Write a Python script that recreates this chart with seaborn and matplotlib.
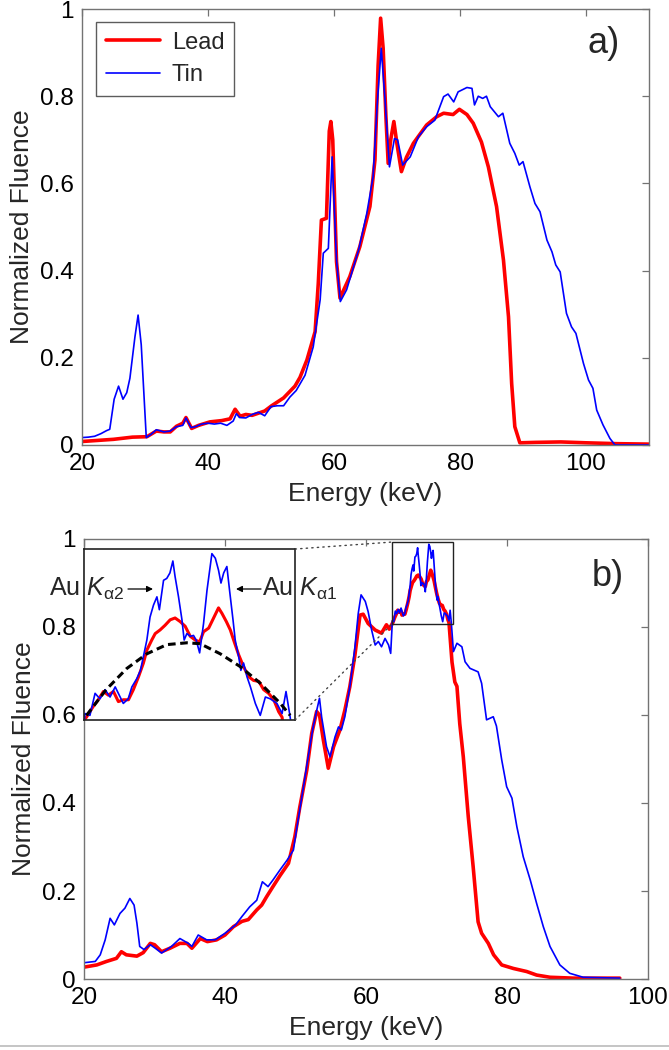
import numpy as np
import pandas as pd
import matplotlib
matplotlib.use("Agg")
import matplotlib.pyplot as plt
import seaborn as sns
from matplotlib.patches import Rectangle, ConnectionPatch
from matplotlib.lines import Line2D

# ==========================================
# DATA
# ==========================================

# panel a) - Lead
lead_a_e = [20, 22, 25, 28, 30.3, 31.8, 33, 34, 35, 36, 36.5, 37.4, 38.5, 40.3,
            42.2, 43.5, 44.3, 45.1, 46, 47, 48, 49, 50.1, 52, 53.8, 54.6, 55.7,
            57, 57.5, 58.0, 58.8, 59.25, 59.5, 59.8, 60.4, 60.95, 62.5, 64.1,
            65.7, 66.5, 67.0, 67.4, 67.8, 68.25, 68.6, 69.0, 69.5, 70.0, 70.7,
            71.5, 72.6, 74.7, 76.3, 77.4, 78.9, 79.9, 81.1, 82.1, 83.4, 84.5,
            85.8, 86.9, 87.7, 88.2, 88.7, 89.5, 92, 96, 100, 105, 110]
lead_a_v = [0.008, 0.010, 0.013, 0.018, 0.019, 0.032, 0.030, 0.030, 0.043, 0.050,
            0.063, 0.038, 0.045, 0.053, 0.056, 0.060, 0.082, 0.066, 0.070, 0.068,
            0.073, 0.078, 0.090, 0.108, 0.135, 0.155, 0.195, 0.260, 0.370, 0.516,
            0.520, 0.720, 0.742, 0.700, 0.420, 0.337, 0.386, 0.455, 0.547, 0.654,
            0.870, 0.979, 0.910, 0.750, 0.646, 0.700, 0.742, 0.690, 0.627, 0.660,
            0.692, 0.734, 0.753, 0.761, 0.758, 0.770, 0.758, 0.738, 0.695, 0.638,
            0.547, 0.424, 0.294, 0.141, 0.042, 0.005, 0.006, 0.007, 0.005, 0.003,
            0.002]

# panel a) - Tin
tin_a_e = [20, 21, 22, 23, 23.9, 24.4, 25.1, 25.8, 26.5, 27.1, 27.6, 28.4, 28.9,
           29.4, 30.2, 31, 31.8, 33, 34, 35, 36, 36.5, 37.3, 38, 39, 40, 41, 42,
           43, 44, 44.5, 45, 46, 47, 48, 49, 50, 51, 52, 53, 54, 55.4, 56.7, 57.8,
           58.3, 59.1, 59.7, 60.4, 61.0, 62.0, 63.9, 65.2, 66.2, 66.9, 67.5, 68.1,
           68.8, 69.6, 70.1, 70.9, 72.1, 73.4, 74.7, 76.0, 77.4, 78.1, 79.0, 79.7,
           81.1, 81.9, 82.3, 82.9, 83.6, 84.2, 84.8, 86.1, 86.8, 87.9, 88.7, 89.4,
           90.0, 91.1, 91.9, 92.7, 93.8, 94.6, 95.2, 95.9, 96.9, 97.7, 98.4, 99.6,
           100.4, 101.1, 101.7, 102.7, 103.8, 104.6, 110]
tin_a_v = [0.017, 0.018, 0.020, 0.026, 0.033, 0.036, 0.105, 0.135, 0.105, 0.120,
           0.153, 0.248, 0.298, 0.230, 0.017, 0.025, 0.035, 0.030, 0.032, 0.042,
           0.045, 0.062, 0.040, 0.042, 0.048, 0.050, 0.048, 0.050, 0.045, 0.055,
           0.072, 0.063, 0.062, 0.070, 0.075, 0.067, 0.088, 0.090, 0.090, 0.110,
           0.125, 0.160, 0.225, 0.333, 0.440, 0.451, 0.661, 0.424, 0.329, 0.356,
           0.447, 0.531, 0.615, 0.791, 0.910, 0.791, 0.638, 0.703, 0.700, 0.642,
           0.661, 0.707, 0.730, 0.745, 0.799, 0.805, 0.787, 0.810, 0.820, 0.818,
           0.780, 0.800, 0.795, 0.800, 0.776, 0.753, 0.761, 0.692, 0.669, 0.642,
           0.650, 0.592, 0.554, 0.535, 0.470, 0.443, 0.413, 0.397, 0.302, 0.271,
           0.256, 0.187, 0.149, 0.130, 0.080, 0.046, 0.015, 0.000, 0.000]

# panel b) - Lead
lead_b_e = [20, 21.8, 23.2, 24.6, 25.3, 26, 27.5, 28.4, 29.4, 30.0, 31.0, 32.2,
            33.6, 34.6, 35.3, 36.5, 37.5, 38.8, 40, 41.2, 42.4, 43.3, 44.5, 45.2,
            45.9, 46.8, 47.8, 49.0, 49.9, 50.6, 51.6, 52.3, 53.0, 53.4, 53.95,
            54.65, 55.4, 56.3, 57.0, 57.7, 58.4, 59.15, 59.6, 60.3, 61.3, 62.2,
            62.9, 63.3,
            63.8, 64.08, 64.28, 64.49, 64.69, 64.9, 65.1, 65.3, 65.51, 65.71, 65.92,
            66.12, 66.26, 66.46, 66.6, 66.8, 67.0, 67.21, 67.41, 67.62, 67.82,
            68.03, 68.23, 68.41, 68.57, 68.78, 68.98, 69.18, 69.32, 69.5, 69.66,
            69.82, 70.0, 70.2, 70.41, 70.61, 70.82, 71.02, 71.22, 71.43, 71.63,
            71.77,
            72.2, 72.6, 72.9, 73.3, 73.8, 74.5, 75.2, 75.9, 76.4, 77.35, 78.1,
            79.25, 80.9, 82.8, 84.2, 86.1, 89.4, 96.0]
lead_b_v = [0.027, 0.032, 0.040, 0.047, 0.062, 0.055, 0.052, 0.060, 0.081, 0.078,
            0.062, 0.070, 0.081, 0.081, 0.070, 0.092, 0.085, 0.089, 0.100, 0.119,
            0.131, 0.135, 0.157, 0.168, 0.187, 0.210, 0.235, 0.263, 0.323, 0.390,
            0.475, 0.558, 0.608, 0.600, 0.543, 0.479, 0.528, 0.566, 0.611, 0.664,
            0.733, 0.827, 0.829, 0.808, 0.793, 0.786, 0.805, 0.795,
            0.810, 0.822, 0.829, 0.838, 0.834, 0.838, 0.827, 0.829, 0.829, 0.840,
            0.854, 0.869, 0.883, 0.894, 0.901, 0.905, 0.910, 0.916, 0.918, 0.914,
            0.909, 0.898, 0.894, 0.892, 0.903, 0.907, 0.918, 0.929, 0.923, 0.914,
            0.905, 0.892, 0.878, 0.865, 0.854, 0.850, 0.849, 0.840, 0.836, 0.829,
            0.816, 0.810,
            0.720, 0.675, 0.665, 0.580, 0.505, 0.370, 0.255, 0.130, 0.104, 0.081,
            0.055, 0.032, 0.024, 0.017, 0.009, 0.004, 0.002, 0.002]

# panel b) - Tin
tin_b_e = [20, 21.6, 22.3, 23.0, 23.7, 24.3, 25.1, 25.8, 26.5, 27.1, 27.5, 27.9,
           28.5, 29.4, 30.1, 31.0, 32.4, 33.6, 34.8, 35.3, 36.2, 37.4, 38.6, 40,
           41.5, 42.4, 43.5, 44.5, 45.3, 46.1, 46.8, 47.8, 48.8, 49.7, 50.2, 50.9,
           51.8, 52.5, 53.0, 53.4, 53.7, 54.4, 54.9, 55.6, 56.1, 56.5, 57.0, 57.7,
           58.4, 58.9, 59.3, 59.9, 60.3, 60.8, 61.3, 61.75, 62.2, 62.7, 63.2, 63.5,
           63.74, 63.94, 64.15, 64.35, 64.56, 64.76, 64.97, 65.1, 65.3, 65.5,
           65.65, 65.85, 66.0, 66.12, 66.26, 66.39, 66.53, 66.67, 66.77, 66.94,
           67.07, 67.2, 67.32, 67.41, 67.55, 67.69, 67.78, 67.89, 68.03, 68.16,
           68.27, 68.41, 68.57, 68.71, 68.82, 68.91, 69.05, 69.18, 69.28, 69.39,
           69.52, 69.63, 69.77, 69.86, 70.0, 70.09, 70.2, 70.34, 70.48, 70.68,
           70.88, 71.09, 71.29, 71.56, 71.77, 71.93, 72.1,
           72.4, 72.9, 73.6, 74.05, 74.75, 75.9, 76.4, 77.1, 78.05, 78.5, 79.25,
           79.95, 80.7, 81.4, 82.3, 83.3, 84.2, 85.15, 86.1, 87.5, 88.9, 90.8,
           96.0]
tin_b_v = [0.037, 0.040, 0.055, 0.089, 0.138, 0.123, 0.149, 0.161, 0.183, 0.168,
           0.127, 0.074, 0.067, 0.078, 0.070, 0.059, 0.074, 0.092, 0.081, 0.074,
           0.100, 0.089, 0.089, 0.104, 0.123, 0.142, 0.164, 0.179, 0.221, 0.210,
           0.225, 0.248, 0.270, 0.293, 0.345, 0.414, 0.505, 0.573, 0.610, 0.638,
           0.596, 0.528, 0.505, 0.550, 0.573, 0.566, 0.596, 0.664, 0.750, 0.831,
           0.873, 0.858, 0.835, 0.793, 0.759, 0.767, 0.755, 0.774, 0.759, 0.740,
           0.814, 0.812, 0.836, 0.830, 0.840, 0.832, 0.843, 0.836, 0.825, 0.830,
           0.843, 0.852, 0.861, 0.876, 0.894, 0.919, 0.932, 0.941, 0.927, 0.959,
           0.961, 0.967, 0.980, 0.963, 0.941, 0.916, 0.894, 0.901, 0.898, 0.899,
           0.894, 0.880, 0.912, 0.948, 0.970, 0.988, 0.983, 0.970, 0.956, 0.967,
           0.974, 0.948, 0.916, 0.894, 0.876, 0.861, 0.869, 0.854, 0.843, 0.825,
           0.812, 0.832, 0.830, 0.825, 0.814, 0.838, 0.810,
           0.744, 0.763, 0.755, 0.721, 0.706, 0.698, 0.672, 0.589, 0.596, 0.575,
           0.498, 0.437, 0.411, 0.346, 0.278, 0.225, 0.172, 0.119, 0.074, 0.032,
           0.013, 0.004, 0.002]

# dashed continuum in the inset
cont_e = [63.8, 64.6, 65.44, 66.26, 67.07, 67.89, 68.43, 69.25, 70.07, 70.88, 71.7, 72.1]
cont_v = [0.812, 0.840, 0.863, 0.879, 0.889, 0.891, 0.890, 0.879, 0.865, 0.847, 0.825, 0.812]

# zoom window shown in the inset
zoom_x = [63.7, 72.3]
zoom_y = [0.807, 0.993]

y_ticks = [0, 0.2, 0.4, 0.6, 0.8, 1]
y_ticklabels = ['0', '0.2', '0.4', '0.6', '0.8', '1']
xa_ticks = [20, 40, 60, 80, 100]
xb_ticks = [20, 40, 60, 80, 100]

# ==========================================
# STYLE
# ==========================================
sns.set_style('white')
plt.rcParams['font.family'] = ['Liberation Sans', 'DejaVu Sans']
plt.rcParams['mathtext.fontset'] = 'custom'
plt.rcParams['mathtext.rm'] = 'Liberation Sans'
plt.rcParams['mathtext.it'] = 'Liberation Sans:italic'

spine_col = '#737373'
RED = '#ff0000'
BLUE = '#0000ff'

fig = plt.figure(figsize=(6.69, 10.5), dpi=100)
ax_a = fig.add_axes([0.1226, 0.5762, 0.8475, 0.4152])
ax_b = fig.add_axes([0.1256, 0.0676, 0.8430, 0.4191])


def style_axes(ax, xlim, xticks):
    ax.set_xlim(*xlim)
    ax.set_ylim(0, 1)
    ax.set_xticks(xticks)
    ax.set_xticklabels([str(t) for t in xticks])
    ax.set_yticks(y_ticks)
    ax.set_yticklabels(y_ticklabels)
    for s in ax.spines.values():
        s.set_color(spine_col)
        s.set_linewidth(1.0)
        s.set_visible(True)
    ax.tick_params(direction='in', length=5, width=0.9, color=spine_col,
                   top=True, right=True, labelsize=17.5, pad=6, labelcolor='black')
    ax.set_xlabel('Energy (keV)', fontsize=19, labelpad=5)
    ax.set_ylabel('Normalized Fluence', fontsize=19, labelpad=4)


# ==========================================
# PANEL a)
# ==========================================
sns.lineplot(x=lead_a_e, y=lead_a_v, ax=ax_a, color=RED, linewidth=2.6,
             label='Lead', sort=False, estimator=None)
sns.lineplot(x=tin_a_e, y=tin_a_v, ax=ax_a, color=BLUE, linewidth=1.2,
             label='Tin', sort=False, estimator=None)
style_axes(ax_a, (20, 110), xa_ticks)
leg = ax_a.legend(loc='upper left', bbox_to_anchor=(0.025, 0.97), fontsize=17,
                  frameon=True, fancybox=False, handlelength=2.3,
                  borderpad=0.4, labelspacing=0.45, handletextpad=0.5,
                  borderaxespad=0)
leg.get_frame().set_edgecolor('#333333')
leg.get_frame().set_linewidth(1.0)
ax_a.text(0.92, 0.92, 'a)', transform=ax_a.transAxes, fontsize=26,
          ha='center', va='center')

# ==========================================
# PANEL b)
# ==========================================
sns.lineplot(x=lead_b_e, y=lead_b_v, ax=ax_b, color=RED, linewidth=2.6,
             sort=False, estimator=None)
sns.lineplot(x=tin_b_e, y=tin_b_v, ax=ax_b, color=BLUE, linewidth=1.2,
             sort=False, estimator=None)
style_axes(ax_b, (20, 100), xb_ticks)
ax_b.text(0.929, 0.914, 'b)', transform=ax_b.transAxes, fontsize=26,
          ha='center', va='center')

# zoom box
ax_b.add_patch(Rectangle((zoom_x[0], zoom_y[0]), zoom_x[1] - zoom_x[0],
                         zoom_y[1] - zoom_y[0], fill=False, edgecolor='#222222',
                         linewidth=1.0, zorder=5))

# inset
axins = fig.add_axes([0.1256, 0.3143, 0.3155, 0.1628])
sns.lineplot(x=lead_b_e, y=lead_b_v, ax=axins, color=RED, linewidth=2.2,
             sort=False, estimator=None)
sns.lineplot(x=tin_b_e, y=tin_b_v, ax=axins, color=BLUE, linewidth=1.2,
             sort=False, estimator=None)
sns.lineplot(x=cont_e, y=cont_v, ax=axins, color='black', linewidth=2.2,
             linestyle=(0, (2.5, 1.5)), sort=False, estimator=None)
axins.set_xlim(*zoom_x)
axins.set_ylim(*zoom_y)
axins.set_xticks([])
axins.set_yticks([])
axins.set_xlabel('')
axins.set_ylabel('')
for s in axins.spines.values():
    s.set_color('#222222')
    s.set_linewidth(1.2)
    s.set_visible(True)

for xy_ins, xy_main in [((1, 1), (zoom_x[0], zoom_y[1])),
                        ((1, 0), (zoom_x[0], zoom_y[0]))]:
    con = ConnectionPatch(xyA=xy_ins, coordsA=axins.transAxes,
                          xyB=xy_main, coordsB=ax_b.transData,
                          color='#444444', linewidth=1.0,
                          linestyle=(0, (1, 3)))
    fig.add_artist(con)

# annotations
fig.text(49 / 669, 1 - 589 / 1050, 'Au $K_{\\mathrm{\\alpha 2}}$', fontsize=18,
         ha='left', va='center')
fig.text(262 / 669, 1 - 589 / 1050, 'Au $K_{\\mathrm{\\alpha 1}}$', fontsize=18,
         ha='left', va='center')
arrow = dict(arrowstyle='-|>', color='black', linewidth=0.9,
             mutation_scale=9, shrinkA=0, shrinkB=0)
fig.add_artist(plt.Annotation('', xy=(153 / 669, 1 - 589 / 1050),
                              xytext=(128 / 669, 1 - 589 / 1050),
                              xycoords='figure fraction',
                              textcoords='figure fraction', arrowprops=arrow))
fig.add_artist(plt.Annotation('', xy=(236 / 669, 1 - 589 / 1050),
                              xytext=(261 / 669, 1 - 589 / 1050),
                              xycoords='figure fraction',
                              textcoords='figure fraction', arrowprops=arrow))

# thin separator line at the very bottom of the figure
fig.add_artist(Line2D([0, 1], [0.004, 0.004], transform=fig.transFigure,
                      color='#bbbbbb', linewidth=1.2))

fig.savefig('out.png', dpi=100)
